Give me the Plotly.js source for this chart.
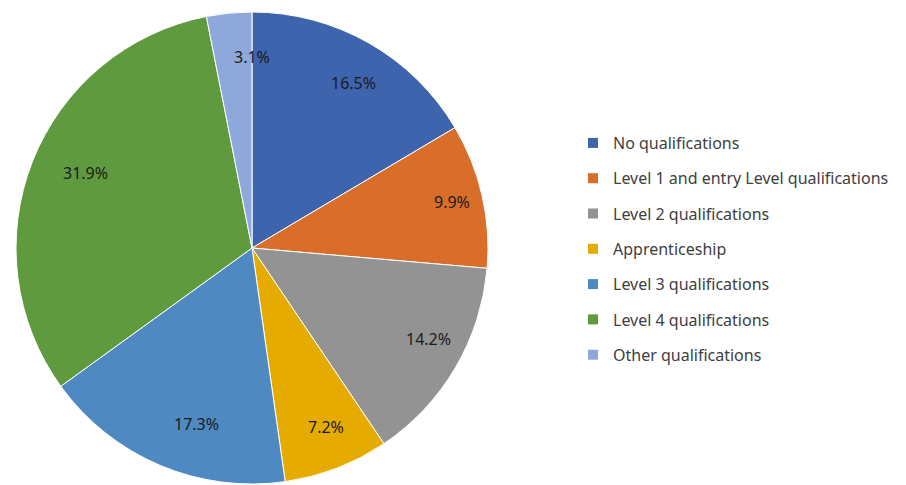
<!DOCTYPE html>
<html><head><meta charset="utf-8">
<script src="https://cdn.plot.ly/plotly-3.0.1.min.js"></script>
<style>html,body{margin:0;padding:0;background:#fff}#chart{width:906px;height:485px}</style>
</head><body><div id="chart"></div>
<script>
const categories = ["No qualifications","Level 1 and entry Level qualifications","Level 2 qualifications","Apprenticeship","Level 3 qualifications","Level 4 qualifications","Other qualifications"];
const shares = [16.5, 9.9, 14.2, 7.2, 17.3, 31.9, 3.1];
const colors = ["#3F64AE","#D86E2A","#939393","#E5AB00","#4E89C1","#5F9A3E","#8FA8DC"];

const W = 906, H = 485;
const cx = 252, cy = 248, R = 236;
const labelFrac = 0.87;
const FONT = 'Noto Sans, Liberation Sans, Arial, sans-serif';

const pie = {
  type: 'pie', values: shares, labels: categories, sort: false,
  direction: 'clockwise', rotation: 0, textinfo: 'none', hoverinfo: 'label+value',
  marker: {colors: colors, line: {color: '#ffffff', width: 1}},
  domain: {x: [(cx - R) / W, (cx + R) / W], y: [(H - cy - R) / H, (H - cy + R) / H]},
  showlegend: false
};

const legendTraces = categories.map((c, i) => ({
  type: 'scatter', mode: 'markers', x: [null], y: [null], name: c,
  legendgroup: 'g' + i,
  marker: {symbol: 'square', size: 10, color: colors[i]}, hoverinfo: 'skip'
}));

const total = shares.reduce((a, b) => a + b, 0);
let cum = 0;
const annotations = shares.map((v, i) => {
  const mid = (cum + v / 2) / total * 2 * Math.PI;
  cum += v;
  const px = cx + labelFrac * R * Math.sin(mid);
  const py = cy - labelFrac * R * Math.cos(mid);
  return {x: px / W, y: 1 - py / H, xref: 'paper', yref: 'paper', showarrow: false,
    text: v.toFixed(1) + '%', font: {family: FONT, size: 16, color: '#1a1a1a'}};
});

const layout = {
  width: W, height: H, margin: {l: 0, r: 0, t: 0, b: 0},
  paper_bgcolor: '#ffffff', plot_bgcolor: 'rgba(0,0,0,0)',
  xaxis: {visible: false}, yaxis: {visible: false},
  showlegend: true,
  legend: {x: 573 / W, y: 1 - 126 / H, xanchor: 'left', yanchor: 'top', tracegroupgap: 11.5,
    font: {family: FONT, size: 16, color: '#404040'}, bgcolor: 'rgba(0,0,0,0)'},
  annotations: annotations
};

Plotly.newPlot('chart', [pie].concat(legendTraces), layout, {displayModeBar: false, staticPlot: true});
</script></body></html>
